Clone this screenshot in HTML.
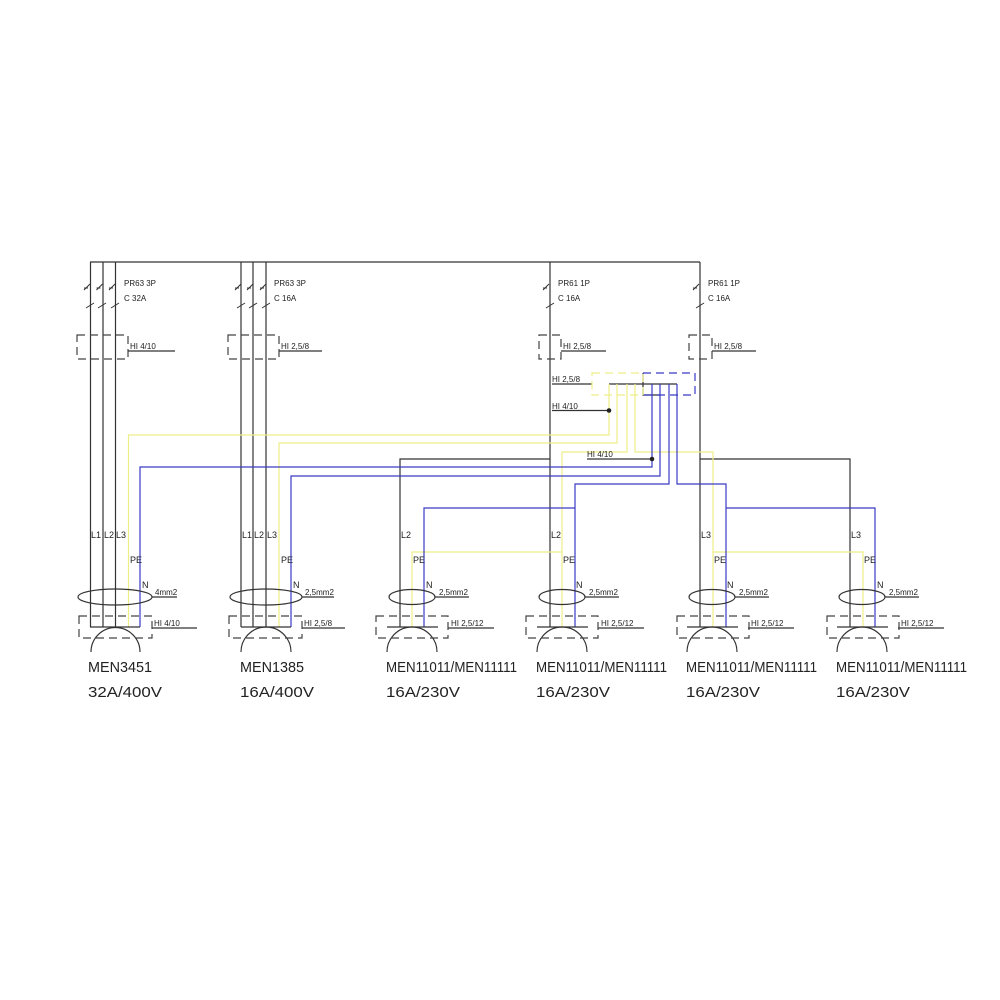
<!DOCTYPE html>
<html><head><meta charset="utf-8"><style>
html,body{margin:0;padding:0;background:#fff;}
svg{display:block;}
text{font-family:"Liberation Sans","DejaVu Sans",sans-serif;fill:#222;}
.s{font-size:8px;}
.m{font-size:9px;}
.b{font-size:15px;fill:#333;}
</style></head><body>
<svg width="1000" height="1000" viewBox="0 0 1000 1000" xmlns="http://www.w3.org/2000/svg">
<g fill="none" stroke-width="1.2">
<!-- black conductors -->
<g stroke="#333">
<path d="M90 262H700"/>
<path d="M90.5 262V627M103 262V627M115.5 262V627"/>
<path d="M241 262V627M253 262V627M266 262V627"/>
<path d="M550 262V627M700 262V627"/>
<path d="M550 459H400V627M700 459H850V627"/>
<path d="M609 384H677M643 373V395H660"/>
<path d="M552 384H592M552 410.5H609M587 459H652"/>
</g>
<!-- yellow -->
<g stroke="#eeee88">
<path d="M609 384V435H128.5V627"/>
<path d="M617 384V443H279V627"/>
<path d="M627 384V452H562V627M562 552H412V627"/>
<path d="M635 384V452H713V627M713 552H863V627"/>
<rect x="592" y="373" width="51" height="22" stroke-dasharray="8,5"/>
</g>
<!-- blue -->
<g stroke="#3a3ac4">
<path d="M652 384V467H140V627"/>
<path d="M660 384V476H291V627"/>
<path d="M669 384V484H575V627M575 508H424V627"/>
<path d="M677 384V484H726V627M726 508H875V627"/>
<path d="M643 373H695V395H643" stroke-dasharray="8,5"/>
</g>
<!-- upper dashed boxes -->
<g stroke="#444" stroke-dasharray="8,5">
<rect x="77" y="335" width="51" height="24"/>
<rect x="228" y="335" width="51" height="24"/>
<rect x="539" y="335" width="22" height="24"/>
<rect x="689" y="335" width="23" height="24"/>
</g>
<g stroke="#333">
<path d="M128 351H175M279 351H322M561 351H606M712 351H756"/>
</g>
<!-- breakers -->
<g stroke="#333" stroke-width="1">
<path d="M84 290l6-6M84 288h4M96.5 290l6-6M96.5 288h4M109 290l6-6M109 288h4"/>
<path d="M86 308l8-5M98 308l8-5M111 308l8-5"/>
<path d="M235 290l6-6M235 288h4M247 290l6-6M247 288h4M260 290l6-6M260 288h4"/>
<path d="M237 308l8-5M249 308l8-5M262 308l8-5"/>
<path d="M543 290l6-6M543 288h4M546 308l8-5"/>
<path d="M693 290l6-6M693 288h4M696 308l8-5"/>
</g>
<!-- bottom components -->
<g stroke="#333">
<ellipse cx="115" cy="597" rx="37" ry="8"/>
<ellipse cx="266" cy="597" rx="36" ry="8"/>
<ellipse cx="412" cy="597" rx="23" ry="7.5"/>
<ellipse cx="562" cy="597" rx="23" ry="7.5"/>
<ellipse cx="712" cy="597" rx="23" ry="7.5"/>
<ellipse cx="862" cy="597" rx="23" ry="7.5"/>
<path d="M152 597H177M302 597H334M435 597H469M585 597H619M735 597H769M885 597H919"/>
<path d="M90 627H140M241 627H291M387 627H438M537 627H588M687 627H738M837 627H888"/>
<path d="M91 652A24.5 24.5 0 0 1 140 652M241 652A25 25 0 0 1 291 652M387 652A25 25 0 0 1 437 652M537 652A25 25 0 0 1 587 652M687 652A25 25 0 0 1 737 652M837 652A25 25 0 0 1 887 652"/>
<path d="M152 628H197M302 628H345M448 628H494M598 628H644M748 628H794M898 628H944"/>
</g>
<g stroke="#444" stroke-dasharray="8,5">
<rect x="79" y="616" width="73" height="22"/>
<rect x="229" y="616" width="73" height="22"/>
<rect x="376" y="616" width="72" height="22"/>
<rect x="526" y="616" width="72" height="22"/>
<rect x="677" y="616" width="72" height="22"/>
<rect x="827" y="616" width="72" height="22"/>
</g>
</g>
<circle cx="609" cy="410.5" r="2.3" fill="#222"/>
<circle cx="652" cy="459" r="2.3" fill="#222"/>
<!-- breaker text -->
<g class="s">
<text x="124" y="286">PR63 3P</text><text x="124" y="301">C 32A</text>
<text x="274" y="286">PR63 3P</text><text x="274" y="301">C 16A</text>
<text x="558" y="286">PR61 1P</text><text x="558" y="301">C 16A</text>
<text x="708" y="286">PR61 1P</text><text x="708" y="301">C 16A</text>
<text x="130" y="349">HI 4/10</text>
<text x="281" y="349">HI 2,5/8</text>
<text x="563" y="349">HI 2,5/8</text>
<text x="714" y="349">HI 2,5/8</text>
<text x="552" y="382">HI 2,5/8</text>
<text x="552" y="409">HI 4/10</text>
<text x="587" y="457">HI 4/10</text>
<text x="155" y="595">4mm2</text>
<text x="305" y="595">2,5mm2</text>
<text x="439" y="595">2,5mm2</text>
<text x="589" y="595">2,5mm2</text>
<text x="739" y="595">2,5mm2</text>
<text x="889" y="595">2,5mm2</text>
<text x="154" y="626">HI 4/10</text>
<text x="304" y="626">HI 2,5/8</text>
<text x="451" y="626">HI 2,5/12</text>
<text x="601" y="626">HI 2,5/12</text>
<text x="751" y="626">HI 2,5/12</text>
<text x="901" y="626">HI 2,5/12</text>
</g>
<g class="m">
<text x="91" y="538">L1</text><text x="104" y="538">L2</text><text x="116" y="538">L3</text>
<text x="130" y="563">PE</text><text x="142" y="588">N</text>
<text x="242" y="538">L1</text><text x="254" y="538">L2</text><text x="267" y="538">L3</text>
<text x="281" y="563">PE</text><text x="293" y="588">N</text>
<text x="401" y="538">L2</text><text x="413" y="563">PE</text><text x="426" y="588">N</text>
<text x="551" y="538">L2</text><text x="563" y="563">PE</text><text x="576" y="588">N</text>
<text x="701" y="538">L3</text><text x="714" y="563">PE</text><text x="727" y="588">N</text>
<text x="851" y="538">L3</text><text x="864" y="563">PE</text><text x="877" y="588">N</text>
</g>
<g class="b">
<text x="88" y="672" textLength="64" lengthAdjust="spacingAndGlyphs">MEN3451</text>
<text x="88" y="697" textLength="74" lengthAdjust="spacingAndGlyphs">32A/400V</text>
<text x="240" y="672" textLength="64" lengthAdjust="spacingAndGlyphs">MEN1385</text>
<text x="240" y="697" textLength="74" lengthAdjust="spacingAndGlyphs">16A/400V</text>
<text x="386" y="672" textLength="131" lengthAdjust="spacingAndGlyphs">MEN11011/MEN11111</text>
<text x="386" y="697" textLength="74" lengthAdjust="spacingAndGlyphs">16A/230V</text>
<text x="536" y="672" textLength="131" lengthAdjust="spacingAndGlyphs">MEN11011/MEN11111</text>
<text x="536" y="697" textLength="74" lengthAdjust="spacingAndGlyphs">16A/230V</text>
<text x="686" y="672" textLength="131" lengthAdjust="spacingAndGlyphs">MEN11011/MEN11111</text>
<text x="686" y="697" textLength="74" lengthAdjust="spacingAndGlyphs">16A/230V</text>
<text x="836" y="672" textLength="131" lengthAdjust="spacingAndGlyphs">MEN11011/MEN11111</text>
<text x="836" y="697" textLength="74" lengthAdjust="spacingAndGlyphs">16A/230V</text>
</g>
</svg>
</body></html>
